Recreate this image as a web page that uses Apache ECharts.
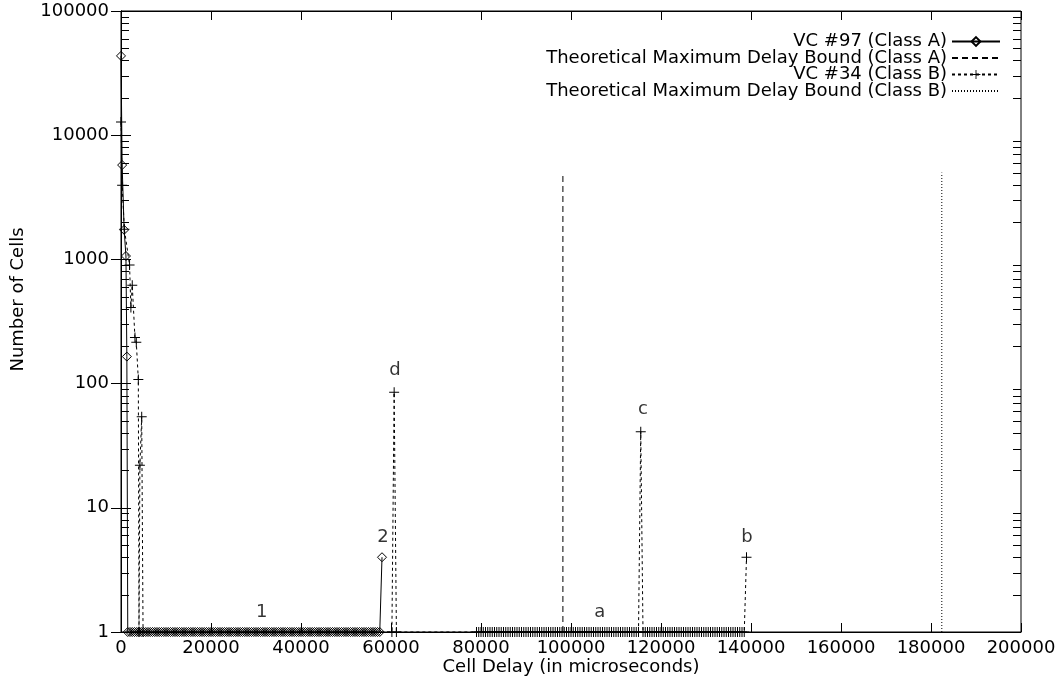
<!DOCTYPE html>
<html><head><meta charset="utf-8">
<script src="https://cdn.jsdelivr.net/npm/echarts@6/dist/echarts.min.js"></script>
<style>html,body{margin:0;padding:0;background:#fff}#c{width:1061px;height:686px}</style>
</head><body><div id="c"></div>
<script>
const FONT = 'DejaVu Sans';
const seriesNames = ['VC #97 (Class A)', 'Theoretical Maximum Delay Bound (Class A)', 'VC #34 (Class B)', 'Theoretical Maximum Delay Bound (Class B)'];
const xTickLabels = ['0','20000','40000','60000','80000','100000','120000','140000','160000','180000','200000'];
const yTickLabels = ['1','10','100','1000','10000','100000'];

// VC #97 (Class A): [cell delay (us), number of cells]
const classA = [
  [0,43500],[250,5750],[700,1730],[1100,1065],[1300,165],
  [1500,1],[2000,1],[2500,1],[3000,1],[3500,1],[4000,1],[4500,1],[5000,1],[5500,1],[6000,1],
  [6500,1],[7000,1],[7500,1],[8000,1],[8500,1],[9000,1],[9500,1],[10000,1],[10500,1],[11000,1],
  [11500,1],[12000,1],[12500,1],[13000,1],[13500,1],[14000,1],[14500,1],[15000,1],[15500,1],[16000,1],
  [16500,1],[17000,1],[17500,1],[18000,1],[18500,1],[19000,1],[19500,1],[20000,1],[20500,1],[21000,1],
  [21500,1],[22000,1],[22500,1],[23000,1],[23500,1],[24000,1],[24500,1],[25000,1],[25500,1],[26000,1],
  [26500,1],[27000,1],[27500,1],[28000,1],[28500,1],[29000,1],[29500,1],[30000,1],[30500,1],[31000,1],
  [31500,1],[32000,1],[32500,1],[33000,1],[33500,1],[34000,1],[34500,1],[35000,1],[35500,1],[36000,1],
  [36500,1],[37000,1],[37500,1],[38000,1],[38500,1],[39000,1],[39500,1],[40000,1],[40500,1],[41000,1],
  [41500,1],[42000,1],[42500,1],[43000,1],[43500,1],[44000,1],[44500,1],[45000,1],[45500,1],[46000,1],
  [46500,1],[47000,1],[47500,1],[48000,1],[48500,1],[49000,1],[49500,1],[50000,1],[50500,1],[51000,1],
  [51500,1],[52000,1],[52500,1],[53000,1],[53500,1],[54000,1],[54500,1],[55000,1],[55500,1],[56000,1],
  [56500,1],[57000,1],[57500,1],[58000,4]
];

// VC #34 (Class B)
const classB = [
  [0,12800],[250,3960],[750,1750],[1900,900],[2200,410],[2500,620],[3100,235],[3400,215],[3850,108],[4000,1],
  [4200,22],[4600,54],[4900,1],
  [60200,1],[60700,85],[61200,1],
  [79000,1],[79500,1],[80000,1],[80500,1],[81000,1],[81500,1],[82000,1],[82500,1],[83000,1],[83500,1],
  [84000,1],[84500,1],[85000,1],[85500,1],[86000,1],[86500,1],[87000,1],[87500,1],[88000,1],[88500,1],
  [89000,1],[89500,1],[90000,1],[90500,1],[91000,1],[91500,1],[92000,1],[92500,1],[93000,1],[93500,1],
  [94000,1],[94500,1],[95000,1],[95500,1],[96000,1],[96500,1],[97000,1],[97500,1],[98000,1],[98500,1],
  [99000,1],[99500,1],[100000,1],[100500,1],[101000,1],[101500,1],[102000,1],[102500,1],[103000,1],[103500,1],
  [104000,1],[104500,1],[105000,1],[105500,1],[106000,1],[106500,1],[107000,1],[107500,1],[108000,1],[108500,1],
  [109000,1],[109500,1],[110000,1],[110500,1],[111000,1],[111500,1],[112000,1],[112500,1],[113000,1],[113500,1],
  [114000,1],[114500,1],[115000,1],[115500,41],[116000,1],[116500,1],[117000,1],[117500,1],[118000,1],[118500,1],
  [119000,1],[119500,1],[120000,1],[120500,1],[121000,1],[121500,1],[122000,1],[122500,1],[123000,1],[123500,1],
  [124000,1],[124500,1],[125000,1],[125500,1],[126000,1],[126500,1],[127000,1],[127500,1],[128000,1],[128500,1],
  [129000,1],[129500,1],[130000,1],[130500,1],[131000,1],[131500,1],[132000,1],[132500,1],[133000,1],[133500,1],
  [134000,1],[134500,1],[135000,1],[135500,1],[136000,1],[136500,1],[137000,1],[137500,1],[138000,1],[138500,1],
  [139000,4]
];

const boundA = [[98200,1],[98200,5000]];
const boundB = [[182400,1],[182400,5000]];

const annotations = [[31300,1.45,'1'],[58200,5.8,'2'],[60900,129,'d'],[106400,1.45,'a'],[116000,62,'c'],[139100,5.8,'b']];

const minorTicks = [2,3,4,5,6,7,8,9,20,30,40,50,60,70,80,90,200,300,400,500,600,700,800,900,
  2000,3000,4000,5000,6000,7000,8000,9000,20000,30000,40000,50000,60000,70000,80000,90000];

const chart = echarts.init(document.getElementById('c'), null, {renderer:'canvas'});
const txt = {fontFamily: FONT, fontSize: 18, color: '#000'};
const axisLineStyle = {show:true, lineStyle:{color:'#000', width:1}};
const legendTops = [32.5, 49, 65.5, 82];

const option = {
  animation: false,
  backgroundColor: '#fff',
  grid: {left:121, right:40, top:11, bottom:54, show:true, borderColor:'#000', borderWidth:1,
         backgroundColor:'transparent', containLabel:false, outerBoundsMode:'none'},
  legend: seriesNames.map((n,i)=>({
    data:[n], orient:'vertical', align:'right', right:60, top:legendTops[i],
    itemWidth:48, itemHeight:11, itemGap:0, padding:0, selectedMode:false,
    itemStyle: (i % 2 === 1) ? {opacity:0} : {},
    textStyle: txt
  })),
  xAxis: [
    {type:'value', position:'bottom', min:0, max:200000, interval:20000,
     axisLine: axisLineStyle, axisTick:{show:true, inside:true, length:9, lineStyle:{color:'#000'}},
     splitLine:{show:false},
     axisLabel:{...txt, margin:7, formatter:(v)=>xTickLabels[Math.round(v/20000)]},
     name:'Cell Delay (in microseconds)', nameLocation:'middle', nameGap:26, nameMoveOverlap:false,
     nameTextStyle: txt},
    {type:'value', position:'top', min:0, max:200000, interval:20000,
     axisLine: axisLineStyle, axisTick:{show:true, inside:true, length:9, lineStyle:{color:'#000'}},
     splitLine:{show:false}, axisLabel:{show:false}}
  ],
  yAxis: [
    {type:'log', logBase:10, position:'left', min:1, max:100000,
     axisLine: axisLineStyle, axisTick:{show:true, inside:true, length:10, lineStyle:{color:'#000'}},
     splitLine:{show:false}, minorTick:{show:false},
     axisLabel:{...txt, margin:12, formatter:(v)=>yTickLabels[Math.round(Math.log10(v))]},
     name:'Number of Cells', nameLocation:'middle', nameGap:94, nameRotate:90,
     nameTextStyle:{...txt, padding:[0,0,0,44]}},
    {type:'log', logBase:10, position:'right', min:1, max:100000,
     axisLine: axisLineStyle, axisTick:{show:true, inside:true, length:10, lineStyle:{color:'#000'}},
     splitLine:{show:false}, axisLabel:{show:false}}
  ],
  series: [
    {name:seriesNames[0], type:'line', data:classA, clip:false,
     symbol:'diamond', symbolSize:9, showAllSymbol:true,
     lineStyle:{color:'#000', width:1},
     itemStyle:{color:'rgba(0,0,0,0)', borderColor:'#000', borderWidth:1}, z:4},
    {name:seriesNames[1], type:'line', data:boundA, clip:false, symbol:'none',
     lineStyle:{color:'#000', width:1, type:[6,4]}, itemStyle:{color:'#000', opacity:0}},
    {name:seriesNames[2], type:'line', data:classB, clip:false,
     symbol:'path://M0,4.5H10V5.5H0Z M4.5,0H5.5V10H4.5Z', symbolSize:10, showAllSymbol:true,
     lineStyle:{color:'#000', width:1, type:[3,3]}, itemStyle:{color:'#000', borderWidth:0}, z:3},
    {name:seriesNames[3], type:'line', data:boundB, clip:false, symbol:'none',
     lineStyle:{color:'#000', width:1, type:[1,2]}, itemStyle:{color:'#000', opacity:0}},
    {type:'custom', coordinateSystem:'cartesian2d', silent:true, clip:false,
     data: minorTicks.map(v=>[0,v]), encode:{x:0, y:1},
     renderItem:(params, api)=>{
       const v = api.value(1);
       const l = api.coord([0, v]);
       const r = api.coord([200000, v]);
       const y = Math.round(l[1]) + 0.5;
       return {type:'group', children:[
         {type:'line', shape:{x1:l[0], y1:y, x2:l[0]+8, y2:y}, style:{stroke:'#000', lineWidth:1}},
         {type:'line', shape:{x1:r[0]-8, y1:y, x2:r[0], y2:y}, style:{stroke:'#000', lineWidth:1}}
       ]};
     }},
    {type:'scatter', silent:true, clip:false, symbolSize:1,
     data: annotations.map(a=>({value:[a[0],a[1]], name:a[2]})),
     itemStyle:{color:'rgba(0,0,0,0)'},
     label:{show:true, position:'inside', formatter:'{b}', ...txt}}
  ]
};
chart.setOption(option);
</script></body></html>
